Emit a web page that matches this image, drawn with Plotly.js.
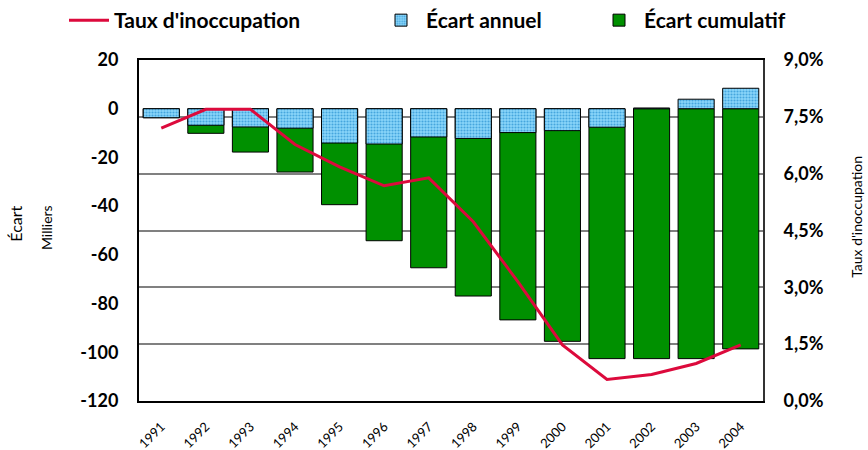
<!DOCTYPE html>
<html><head><meta charset="utf-8">
<script src="https://cdn.plot.ly/plotly-3.0.1.min.js"></script>
<style>body{margin:0;background:#fff}#c{width:868px;height:450px}</style>
</head><body><div id="c"></div>
<script>
const years = ["1991","1992","1993","1994","1995","1996","1997","1998","1999","2000","2001","2002","2003","2004"];
const ecartAnnuel = [-3.7,-6.8,-7.5,-8.0,-14.1,-14.5,-11.6,-12.2,-9.8,-9.0,-7.6,0.3,3.9,8.4];
const ecartCumulatif = [-3.7,-10.1,-17.8,-26.0,-39.4,-54.2,-65.3,-76.9,-86.7,-95.5,-102.6,-102.6,-102.6,-98.6];
const tauxInoccupation = [7.2,7.7,7.7,6.77,6.18,5.68,5.89,4.73,3.15,1.48,0.57,0.70,0.99,1.48];
const leftTickVals = [20,0,-20,-40,-60,-80,-100,-120];
const leftTickText = ["20","0","-20","-40","-60","-80","-100","-120"];
const rightTickVals = [0,1.5,3,4.5,6,7.5,9];
const rightTickText = ["0,0%","1,5%","3,0%","4,5%","6,0%","7,5%","9,0%"];

const FONT = "Lato, 'DejaVu Sans', sans-serif";

const traces = [
  {type:'bar', name:'Écart cumulatif', x:years, y:ecartCumulatif, legend:'legend3',
   marker:{color:'#009000', line:{color:'#000', width:1}}, yaxis:'y'},
  {type:'bar', name:'Écart annuel', x:years, y:ecartAnnuel, legend:'legend2',
   marker:{color:'#7FD0F8', line:{color:'#000', width:1},
     pattern:{shape:'.', bgcolor:'#8AD6FA', fgcolor:'#45A6DE', size:3, solidity:0.4}}, yaxis:'y'},
  {type:'scatter', mode:'lines', name:"Taux d'inoccupation", x:years, y:tauxInoccupation, legend:'legend',
   line:{color:'#DC0A3C', width:3}, yaxis:'y2'}
];

function leg(px) {
  return {orientation:'h', xref:'container', yref:'container', x:px/868, xanchor:'left', y:1.0, yanchor:'top',
    font:{size:21, weight:700, family:FONT}, itemwidth:40, bgcolor:'rgba(0,0,0,0)'};
}

const layout = {
  width:868, height:450,
  margin:{l:139, r:105, t:60, b:49, autoexpand:false},
  paper_bgcolor:'#fff', plot_bgcolor:'#fff',
  barmode:'overlay', bargap:0.19,
  separators:', ',
  font:{family:FONT, color:'#000'},
  showlegend:true,
  legend:leg(64), legend2:leg(376), legend3:leg(594),
  xaxis:{type:'category', showline:true, linecolor:'#000', linewidth:2, mirror:true,
    tickangle:-45, tickfont:{size:13, family:FONT}, ticks:'outside', ticklen:11, tickcolor:'rgba(0,0,0,0)', showgrid:false},
  yaxis:{range:[-120,20], tickvals:leftTickVals, ticktext:leftTickText, showgrid:false, zeroline:false,
    showline:true, linecolor:'#000', linewidth:2, ticks:'outside', ticklen:15, tickcolor:'rgba(0,0,0,0)',
    tickfont:{size:18, weight:700, family:FONT}},
  yaxis2:{range:[0,9], overlaying:'y', side:'right', tickvals:rightTickVals, ticktext:rightTickText,
    showgrid:true, gridcolor:'#808080', gridwidth:2, zeroline:false,
    showline:true, linecolor:'#333', linewidth:2, ticks:'outside', ticklen:15, tickcolor:'rgba(0,0,0,0)',
    tickfont:{size:18, weight:700, family:FONT}},
  annotations:[
    {text:'Écart', xref:'paper', yref:'paper', x:-139/624 + 16/624, y:0.52, textangle:-90, showarrow:false,
     font:{size:16, family:FONT}, xanchor:'center', yanchor:'middle'},
    {text:'Milliers', xref:'paper', yref:'paper', x:-139/624 + 46/624, y:0.51, textangle:-90, showarrow:false,
     font:{size:14, family:FONT}, xanchor:'center', yanchor:'middle'},
    {text:"Taux d'inoccupation", xref:'paper', yref:'paper', x:1 + 94/624, y:0.54, textangle:-90, showarrow:false,
     font:{size:14, family:FONT}, xanchor:'center', yanchor:'middle'}
  ]
};

Plotly.newPlot('c', traces, layout, {displayModeBar:false, staticPlot:true});
</script></body></html>
